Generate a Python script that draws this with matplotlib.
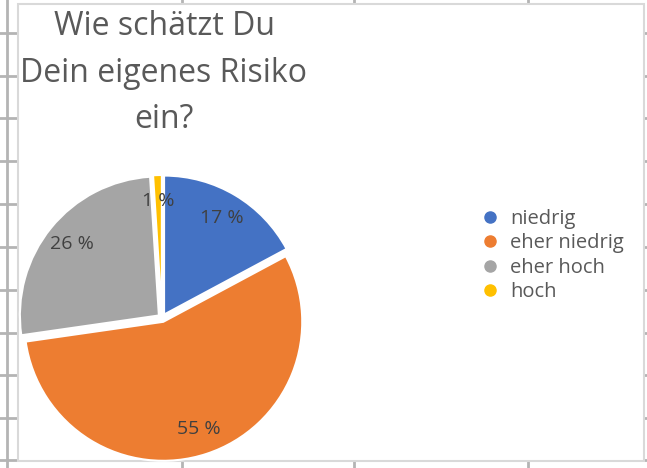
import matplotlib.pyplot as plt
from matplotlib.lines import Line2D
from matplotlib.patches import Rectangle

W, H = 647, 468

labels = ["niedrig", "eher niedrig", "eher hoch", "hoch"]
shares = [17, 55, 26, 1]
colors = ["#4472C4", "#ED7D31", "#A5A5A5", "#FFC000"]
title = "Wie schätzt Du\nDein eigenes Risiko\nein?"

plt.rcParams["font.family"] = ["Open Sans", "DejaVu Sans"]

fig = plt.figure(figsize=(W / 100, H / 100), dpi=100)
ax = fig.add_axes([0, 0, 1, 1])

# spreadsheet cell grid behind the chart
grid_c = "#B4B4B4"
ax.plot([7, 7], [0, H], color=grid_c, lw=2, zorder=0)
for y in [33, 76, 118, 161, 204, 247, 290, 333, 375, 418, 460]:
    ax.plot([0, 18], [H - y, H - y], color=grid_c, lw=2, zorder=0)
    ax.plot([644, W], [H - y, H - y], color=grid_c, lw=2, zorder=0)
for x in [182, 354, 528]:
    ax.plot([x, x], [H, H - 4], color=grid_c, lw=2, zorder=0)
    ax.plot([x, x], [0, H - 461], color=grid_c, lw=2, zorder=0)

# chart area
ax.add_patch(Rectangle((18, H - 461), 626, 457, facecolor="white",
                       edgecolor="#D9D9D9", lw=1.5, zorder=1))

total = sum(shares)
# explode is in data units here (axes run in pixels)
wedges, texts, autotexts = ax.pie(
    shares,
    colors=colors,
    startangle=90,
    counterclock=False,
    explode=[4] * len(shares),
    center=(162, H - 318),
    radius=139,
    pctdistance=0.81,
    autopct=lambda p: f"{round(p * total / 100):.0f} %",
    wedgeprops=dict(edgecolor="white", linewidth=1.5),
    textprops=dict(color="#404040", fontsize=14),
    frame=True,
)
for w in wedges:
    w.set_zorder(2)
for t in autotexts:
    t.set_zorder(3)
ax.set_xlim(0, W)
ax.set_ylim(0, H)
ax.set_aspect("equal")
ax.axis("off")

ax.text(164, H - 73, title, ha="center", va="center", fontsize=23,
        color="#595959", linespacing=1.55, zorder=3)

handles = [Line2D([], [], marker="o", ls="none", color=c, markersize=8) for c in colors]
leg = ax.legend(handles, labels, loc="upper left", bbox_to_anchor=(480 / W, 1 - 209 / H),
                frameon=False, fontsize=14.5, handlelength=1.0, handletextpad=0.5,
                labelspacing=0.22, borderaxespad=0, borderpad=0)
for t in leg.get_texts():
    t.set_color("#595959")

fig.savefig("out.png", dpi=100)
